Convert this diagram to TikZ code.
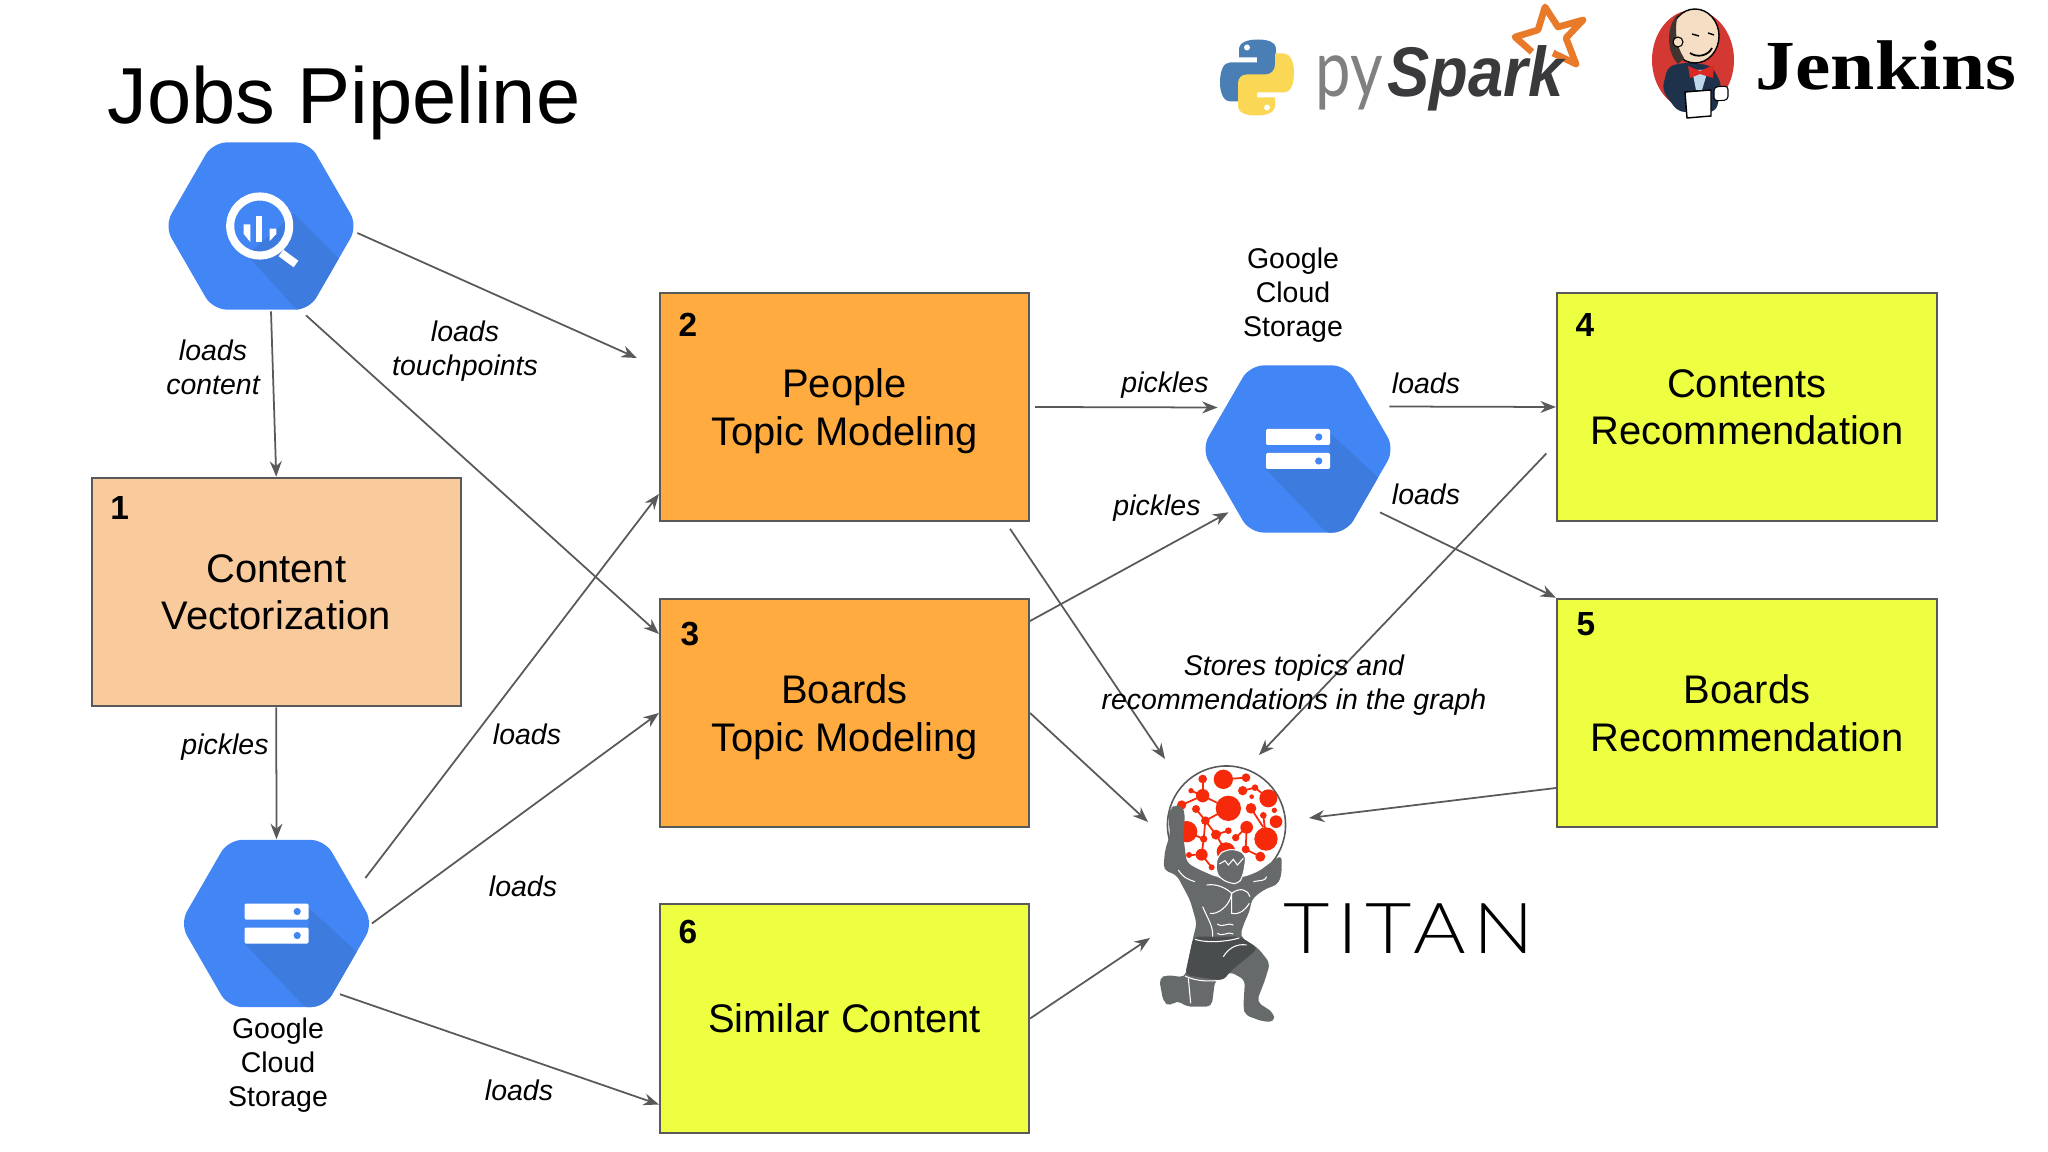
\documentclass[tikz,border=0pt]{standalone}
\usepackage{fontspec}
\setmainfont{Liberation Sans}
\newfontfamily\latofont{Lato}
\newfontfamily\titanfont[UprightFont=* Light,LetterSpace=9]{Lato}
\newfontfamily\serifbold{Liberation Serif}
\usetikzlibrary{arrows.meta,shapes.geometric}
\definecolor{hexblue}{HTML}{4285F4}
\definecolor{hexshade}{HTML}{3E7BDE}
\definecolor{lineGrey}{HTML}{595959}
\definecolor{peach}{HTML}{F9CB9C}
\definecolor{orangebox}{HTML}{FFAB40}
\definecolor{limebox}{HTML}{EEFF41}
\definecolor{dotred}{HTML}{F62A0A}
\definecolor{atlasgrey}{HTML}{676A6B}
\definecolor{atlasdark}{HTML}{4A4D4E}
\begin{document}
\begin{tikzpicture}[
    x=0.01cm, y=-0.01cm,
    conn/.style={draw=lineGrey, line width=0.5pt, -{Stealth[length=4.4pt,width=3.4pt]}},
    jobbox/.style={rectangle, draw=lineGrey, line width=0.55pt, inner sep=0pt, minimum width=3.69cm, minimum height=2.285cm, align=center, text depth=0pt, font=\fontsize{11.35}{13.4}\selectfont},
    widebox/.style={jobbox, minimum width=3.8cm},
    jobnum/.style={font=\fontsize{9.5}{11}\selectfont\bfseries, inner sep=0pt},
    edgetext/.style={align=center, inner sep=0pt, font=\fontsize{8.1}{9.7}\selectfont\itshape},
    storetext/.style={align=center, inner sep=0pt, font=\fontsize{8.1}{9.7}\selectfont},
    hexnode/.style={regular polygon, regular polygon sides=6, minimum size=1.93cm, inner sep=0pt, fill=hexblue, rounded corners=4pt},
    storehex/.style={hexnode, path picture={
      \begin{scope}[sharp corners, shift={(path picture bounding box.center)}]
        \fill[hexshade] (32,-16) -- (85,33) -- (55,95) -- (27,82) -- (-32,20) -- (32,20) -- cycle;
        \foreach \y in {-20,4} {
          \fill[white, rounded corners=0.4pt] (-32,\y) rectangle (32,\y+16);
          \fill[hexblue] (20.7,\y+8) circle (3.6);
        }
      \end{scope}}},
    queryhex/.style={hexnode, path picture={
      \begin{scope}[sharp corners, shift={(path picture bounding box.center)}]
        \fill[hexshade] (33,-12) -- (85,40) -- (60,100) -- (38,86) -- (-14,29) -- cycle;
        \draw[white, line width=2.3pt] (-1.3,0) circle (29.5);
        \draw[white, line width=2.3pt] (20,27) -- (35,38);
        \fill[white] (-4.7,-10) rectangle (1.3,16);
        \fill[white] (-17.3,-1.7) -- (-10.7,-1.7) -- (-10.7,16) -- (-17.3,8) -- cycle;
        \fill[white] (8.7,2.7) -- (15.3,2.7) -- (15.3,8) -- (8.7,15) -- cycle;
      \end{scope}}},
    muscle/.style={draw=white, line width=0.3pt}
  ]
    \useasboundingbox (0,0) rectangle (2048,1152);

    % Title
    \node[anchor=base west, inner sep=0pt, font=\fontsize{22.6}{26}\selectfont] (title) at (107,124) {Jobs Pipeline};

    % Boxes
    \node[jobbox, fill=peach] (vector) at (276.25,592) {Content\\Vectorization};
    \node[jobbox, fill=orangebox] (people) at (844.5,407) {People\\Topic Modeling};
    \node[jobbox, fill=orangebox] (boards) at (844.5,713) {Boards\\Topic Modeling};
    \node[jobbox, fill=limebox] (similar) at (844.5,1018.5) {Similar Content};
    \node[widebox, fill=limebox] (contents) at (1747,407) {Contents\\Recommendation};
    \node[widebox, fill=limebox] (boardrec) at (1747,713) {Boards\\Recommendation};

    % Box numbers
    \node[jobnum] (num1) at ([shift={(29,31)}]vector.north west) {1};
    \node[jobnum] (num2) at ([shift={(29,33)}]people.north west) {2};
    \node[jobnum] (num3) at ([shift={(31,36)}]boards.north west) {3};
    \node[jobnum] (num4) at ([shift={(29,33)}]contents.north west) {4};
    \node[jobnum] (num5) at ([shift={(30,26)}]boardrec.north west) {5};
    \node[jobnum] (num6) at ([shift={(29,29)}]similar.north west) {6};

    % Hexagons
    \node[queryhex] (query) at (261,226) {};
    \node[storehex] (gcsleft) at (276.5,923.5) {};
    \node[storehex] (gcstop) at (1298,449) {};
    \node[storetext] (gcsleftname) at (278,1065) {Google\\Cloud\\Storage};
    \node[storetext] (gcstopname) at (1293,295) {Google\\Cloud\\Storage};

    % Globe
    \node[circle, draw=lineGrey, line width=0.45pt, fill=white, minimum size=1.18cm, inner sep=0pt] (globe) at (1226.5,825) {};
    \begin{scope}[shift={(1130,740)}, scale=1/3]
      \begin{scope}
        \clip (290,255) circle (176);
        \foreach \xa/\ya/\xb/\yb in {218/117/218/167, 218/167/183/152, 218/167/295/205, 218/167/155/195, 280/118/348/113, 338/152/375/143, 375/143/415/175, 198/207/226/242, 226/242/258/284, 226/242/221/297, 258/284/295/272, 221/297/215/344, 215/344/177/345, 350/262/317/293, 350/262/347/328, 347/328/391/350, 363/205/400/262, 400/226/408/297, 295/205/226/242, 170/275/221/297, 215/344/245/382, 258/284/288/335}
          \draw[dotred, line width=0.5pt] (\xa,\ya) -- (\xb,\yb);
        \foreach \x/\y/\rr in {280/118/29, 218/117/13, 348/113/13, 338/152/14, 375/143/10, 415/175/27, 295/205/38, 218/167/20, 183/152/8, 155/195/14, 198/207/12, 226/242/13, 170/275/32, 363/205/16, 433/211/8, 400/226/10, 438/245/19, 350/262/19, 258/284/15, 295/272/10, 221/297/11, 317/293/11, 408/297/35, 288/335/28, 215/344/18, 177/345/9, 347/328/12, 391/350/15, 245/382/9, 365/170/7}
          \fill[dotred] (\x,\y) circle (\rr);
      \end{scope}
      % Atlas
      \fill[atlasgrey, rounded corners=1.5pt] (115,225) -- (122,205) -- (135,195) -- (155,198) -- (165,220) -- (160,290) -- (170,368) -- (205,388) -- (260,412) -- (340,412) -- (385,395) -- (430,362) -- (455,345) -- (455,400) -- (445,432) -- (400,450) -- (365,478) -- (360,510) -- (340,555) -- (330,590) -- (385,625) -- (420,670) -- (405,720) -- (380,785) -- (430,818) -- (435,845) -- (400,845) -- (345,825) -- (340,800) -- (345,720) -- (300,695) -- (255,722) -- (245,800) -- (170,800) -- (140,780) -- (120,800) -- (100,785) -- (87,715) -- (110,705) -- (165,712) -- (190,590) -- (200,550) -- (180,480) -- (140,405) -- (100,390) -- (105,330) -- (120,285) -- cycle;
      \fill[atlasdark, rounded corners=1.5pt] (190,590) -- (330,590) -- (385,625) -- (300,695) -- (280,722) -- (165,705) -- cycle;
      \fill[atlasgrey, draw=white, line width=0.3pt, rounded corners=1.5pt] (258,370) -- (265,345) -- (285,330) -- (320,328) -- (348,345) -- (345,375) -- (338,410) -- (325,432) -- (300,430) -- (270,415) -- (260,400) -- cycle;
      \draw[muscle] (268,372) -- (285,362) -- (295,375) -- (310,358) -- (322,375) -- (340,355);
      \draw[muscle] (145,390) .. controls (160,415) and (180,420) .. (195,425);
      \draw[muscle] (230,435) .. controls (260,430) and (290,445) .. (305,460) .. controls (300,500) and (260,525) .. (240,520);
      \draw[muscle] (305,460) .. controls (330,440) and (355,450) .. (360,470);
      \draw[muscle] (305,460) -- (305,520) .. controls (330,525) and (345,510) .. (358,490);
      \draw[muscle] (218,500) .. controls (235,540) and (250,560) .. (248,590);
      \draw[muscle] (262,552) .. controls (280,565) and (295,545) .. (310,555);
      \draw[muscle] (262,580) .. controls (280,592) and (295,572) .. (310,582);
      \draw[muscle] (195,598) .. controls (230,610) and (290,605) .. (328,594);
      \draw[muscle] (280,650) .. controls (295,625) and (320,610) .. (350,615);
      \draw[muscle] (165,708) .. controls (200,725) and (240,725) .. (280,720);
      \draw[muscle] (175,715) -- (182,790);
      \draw[muscle] (370,425) .. controls (390,420) and (405,425) .. (410,410);
    \end{scope}
    \node[anchor=base west, inner sep=0pt, xscale=1.14, font=\fontsize{20}{24}\selectfont\titanfont] (titan) at (1283,953) {TITAN};

    % Connectors
    \draw[conn] ([shift={(-1,7)}]query.east) -- ([shift={(-22,-49)}]people.west);
    \draw[conn] ([shift={(45,5)}]query.south) -- ([shift={(0,-79)}]boards.west);
    \draw[conn] ([shift={(10,1)}]query.south) -- (vector.north);
    \draw[conn] (vector.south) -- (gcsleft.north);
    \draw[conn] ([shift={(-8.5,-45.5)}]gcsleft.east) -- ([shift={(0,87)}]people.west);
    \draw[conn] ([shift={(-2,0)}]gcsleft.east) -- (boards.west);
    \draw[conn] ([shift={(63.5,-13.6)}]gcsleft.south) -- ([shift={(0,86)}]similar.west);
    \draw[conn] ([shift={(5,0)}]people.east) -- ([shift={(17,-41.5)}]gcstop.west);
    \draw[conn] ([shift={(0,-92)}]boards.east) -- ([shift={(-69.5,-21)}]gcstop.south);
    \draw[conn] ([shift={(-6,-42.5)}]gcstop.east) -- (contents.west);
    \draw[conn] ([shift={(82,-21)}]gcstop.south) -- (boardrec.north west);
    \draw[conn] ([shift={(165.5,6.5)}]people.south) -- ([shift={(-61.5,-66)}]globe.center);
    \draw[conn] (boards.east) -- ([shift={(-78.5,-3)}]globe.center);
    \draw[conn] (similar.east) -- ([shift={(-76.5,113)}]globe.center);
    \draw[conn] ([shift={(-9.6,46.5)}]contents.west) -- ([shift={(32.5,-70)}]globe.center);
    \draw[conn] ([shift={(0,75)}]boardrec.west) -- ([shift={(82.5,-7)}]globe.center);

    % Connector labels
    \node[edgetext] (lbl1) at (213,367) {loads\\content};
    \node[edgetext] (lbl2) at (465,351.5) {loads\\touchpoints};
    \node[edgetext] (lbl3) at (225,747) {pickles};
    \node[edgetext] (lbl4) at (527,734.5) {loads};
    \node[edgetext] (lbl5) at (523,886) {loads};
    \node[edgetext] (lbl6) at (519,1090) {loads};
    \node[edgetext] (lbl7) at (1165,385.5) {pickles};
    \node[edgetext] (lbl8) at (1157,508.5) {pickles};
    \node[edgetext] (lbl9) at (1426,383) {loads};
    \node[edgetext] (lbl10) at (1426,494) {loads};
    \node[edgetext] (lbl11) at (1294,685.5) {Stores topics and\\recommendations in the graph};

    % Python logo
    \begin{scope}[shift={(1257,77.5)}]
      \def\snake{(-18,-28) .. controls (-18,-35) and (-10,-38) .. (1,-38) .. controls (12,-38) and (19,-35) .. (19,-28) -- (19,-6) .. controls (19,0) and (15,3) .. (10,3) -- (-8,3) .. controls (-14,3) and (-18,7) .. (-18,13) -- (-18,24) -- (-27,24) .. controls (-33,24) and (-37,16) .. (-37,5) .. controls (-37,-8) and (-33,-15) .. (-27,-15) -- (0,-15) -- (0,-20) -- (-18,-20) -- cycle}
      \fill[color={rgb,255:red,74;green,127;blue,181}] \snake;
      \fill[white] (-10,-30) circle (3);
      \begin{scope}[rotate=180]
        \fill[color={rgb,255:red,250;green,215;blue,85}] \snake;
        \fill[white] (-10,-30) circle (3);
      \end{scope}
    \end{scope}

    % pySpark logo
    \draw[color={rgb,255:red,232;green,122;blue,42}, line width=1.9pt, line join=round] (1532,52) -- (1515,37) -- (1538,30) -- (1545,7) -- (1558,27) -- (1583,20) -- (1566,38) -- (1576,64) -- (1553,53);
    \node[anchor=base west, inner sep=0pt, yscale=1.25, text=gray, font=\fontsize{18}{20}\selectfont\latofont] (pylogo) at (1315,97) {py};
    \node[anchor=base west, inner sep=0pt, xscale=0.9, text={rgb,255:red,58;green,58;blue,60}, font=\fontsize{20}{24}\selectfont\bfseries\itshape] (sparklogo) at (1387,97) {Spark};

    % Jenkins logo
    \fill[color={rgb,255:red,211;green,56;blue,51}] (1693,60) ellipse (41 and 50);
    \fill[color={rgb,255:red,31;green,50;blue,75}, rounded corners=2pt] (1668,66) -- (1690,62) -- (1712,66) -- (1722,85) -- (1716,112) -- (1678,112) -- (1662,90) -- cycle;
    \fill[color={rgb,255:red,245;green,222;blue,196}, draw=black, line width=0.4pt] (1695,36) ellipse (24 and 27);
    \fill[color={rgb,255:red,64;green,52;blue,48}] (1678,14) .. controls (1666,26) and (1666,52) .. (1678,64) -- (1684,58) .. controls (1676,46) and (1674,30) .. (1678,14) -- cycle;
    \fill[color={rgb,255:red,245;green,222;blue,196}, draw=black, line width=0.3pt] (1678,42) circle (5);
    \draw[black, line width=0.4pt] (1692,34) -- (1699,36) (1708,33) -- (1714,35);
    \draw[black, line width=0.5pt] (1690,53) .. controls (1697,58) and (1708,56) .. (1712,48);
    \fill[color={rgb,255:red,190;green,215;blue,235}] (1692,70) -- (1708,70) -- (1702,90) -- (1696,90) -- cycle;
    \fill[color={rgb,255:red,220;green,40;blue,35}] (1688,66) -- (1700,71) -- (1714,65) -- (1713,78) -- (1700,74) -- (1690,78) -- cycle;
    \fill[white, draw=black, line width=0.4pt] (1685,92) -- (1711,90) -- (1711,116) -- (1687,118) -- cycle;
    \fill[white, draw=black, line width=0.3pt, rounded corners=1pt] (1714,87) -- (1728,86) -- (1728,100) -- (1714,101) -- cycle;
    \node[anchor=base west, inner sep=0pt, xscale=1.13, font=\fontsize{20}{24}\selectfont\serifbold\bfseries] (jenkins) at (1755,90) {Jenkins};
  \end{tikzpicture}
\end{document}
